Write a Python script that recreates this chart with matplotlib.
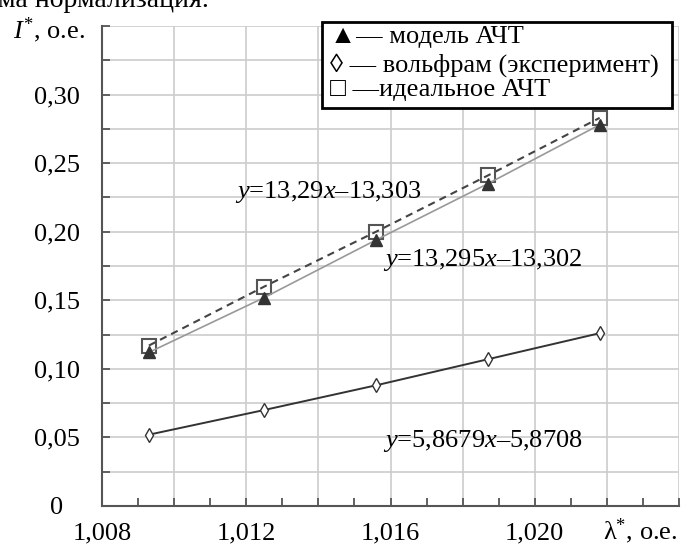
import numpy as np
import matplotlib
matplotlib.use("Agg")
import matplotlib.pyplot as plt
from matplotlib.patches import Rectangle
from matplotlib.transforms import ScaledTranslation

plt.rcParams['font.family'] = ['Liberation Serif', 'DejaVu Serif']
plt.rcParams['mathtext.fontset'] = 'custom'
plt.rcParams['mathtext.rm'] = 'Liberation Serif'
plt.rcParams['mathtext.it'] = 'Liberation Serif:italic'

# data
lam = [1.0093, 1.0125, 1.0156, 1.0187, 1.0218]
model_bb = [0.112, 0.152, 0.194, 0.235, 0.278]      # модель АЧТ
tungsten = [0.052, 0.070, 0.088, 0.107, 0.126]      # вольфрам (эксперимент)
ideal_bb = [0.117, 0.160, 0.200, 0.241, 0.283]      # идеальное АЧТ

x_major = np.arange(1.008, 1.0241, 0.002)
x_minor = np.arange(1.009, 1.0241, 0.002)
x_labels = ['1,008', '', '1,012', '', '1,016', '', '1,020', '', '']
y_ticks = np.arange(0, 0.3501, 0.025)
y_labels = ['0', '', '0,05', '', '0,10', '', '0,15', '', '0,20', '', '0,25', '', '0,30', '', '']

fs = 19
fig = plt.figure(figsize=(6.88, 5.47), dpi=100)
ax = fig.add_axes([102/688, 1-506/547, 577/688, 480/547])

ax.plot(lam, tungsten, color='#333333', lw=1.4, marker='d', ms=7,
        mfc='white', mec='#333333', mew=1.0, zorder=3)
ax.plot(lam, ideal_bb, color='#444444', lw=1.5, ls=(0, (3.5, 2.5)), marker='s', ms=9.5,
        mfc='none', mec='#555555', mew=1.5, zorder=3)
ax.plot(lam, model_bb, color='#999999', lw=1.2, marker='^', ms=9,
        mfc='#333333', mec='#333333', zorder=4)

ax.set_xlim(1.008, 1.024)
ax.set_ylim(0, 0.35)
ax.set_xticks(x_major)
ax.set_xticklabels(x_labels)
ax.set_xticks(x_minor, minor=True)
ax.set_yticks(y_ticks)
ax.set_yticklabels(y_labels)
ax.grid(True, which='major', color='#cccccc', lw=1.2)
ax.set_axisbelow(True)
ax.tick_params(axis='both', which='both', direction='in', length=6, width=1.3,
               color='#555555', labelsize=fs)
ax.tick_params(axis='y', pad=16)
ax.tick_params(axis='x', pad=12)
for s in ['top', 'right']:
    ax.spines[s].set_visible(False)
for s in ['left', 'bottom']:
    ax.spines[s].set_color('#555555')
    ax.spines[s].set_linewidth(1.5)

# the "0" label sits further left in the original
zero_lbl = ax.get_yticklabels()[0]
zero_lbl.set_transform(zero_lbl.get_transform() + ScaledTranslation(-0.17, 0, fig.dpi_scale_trans))

# fit equations
ax.text(0.2305, 0.654, '$y$=13,29$x$–13,303', transform=ax.transAxes,
        fontsize=fs, va='center', ha='left')
ax.text(0.487, 0.5125, '$y$=13,295$x$–13,302', transform=ax.transAxes,
        fontsize=fs, va='center', ha='left')
ax.text(0.487, 0.135, '$y$=5,8679$x$–5,8708', transform=ax.transAxes,
        fontsize=fs, va='center', ha='left')

# axis labels
fig.text(13/688, 1-30/547, '$I^{*}$, о.е.', fontsize=fs, va='center', ha='left')
fig.text(603/688, 1-531/547, 'λ$^{*}$, о.е.', fontsize=fs, va='center', ha='left')

# clipped line of surrounding text
fig.text(-0.003, 1-7/547, 'ма нормализация.', fontsize=20, va='baseline', ha='left')

# legend box
fig.add_artist(Rectangle((322/688, 1-108/547), 350/688, 86/547, transform=fig.transFigure,
                         fc='white', ec='black', lw=2, zorder=5))
leg_lines = ['▲— модель АЧТ', '◊ — вольфрам (эксперимент)', '□ —идеальное АЧТ']
leg_y = [37, 65, 90]
for t, yy in zip(leg_lines, leg_y):
    fig.text(330/688, 1-yy/547, t, fontsize=fs, va='center', ha='left', zorder=6)

fig.savefig('out.png', dpi=100)
